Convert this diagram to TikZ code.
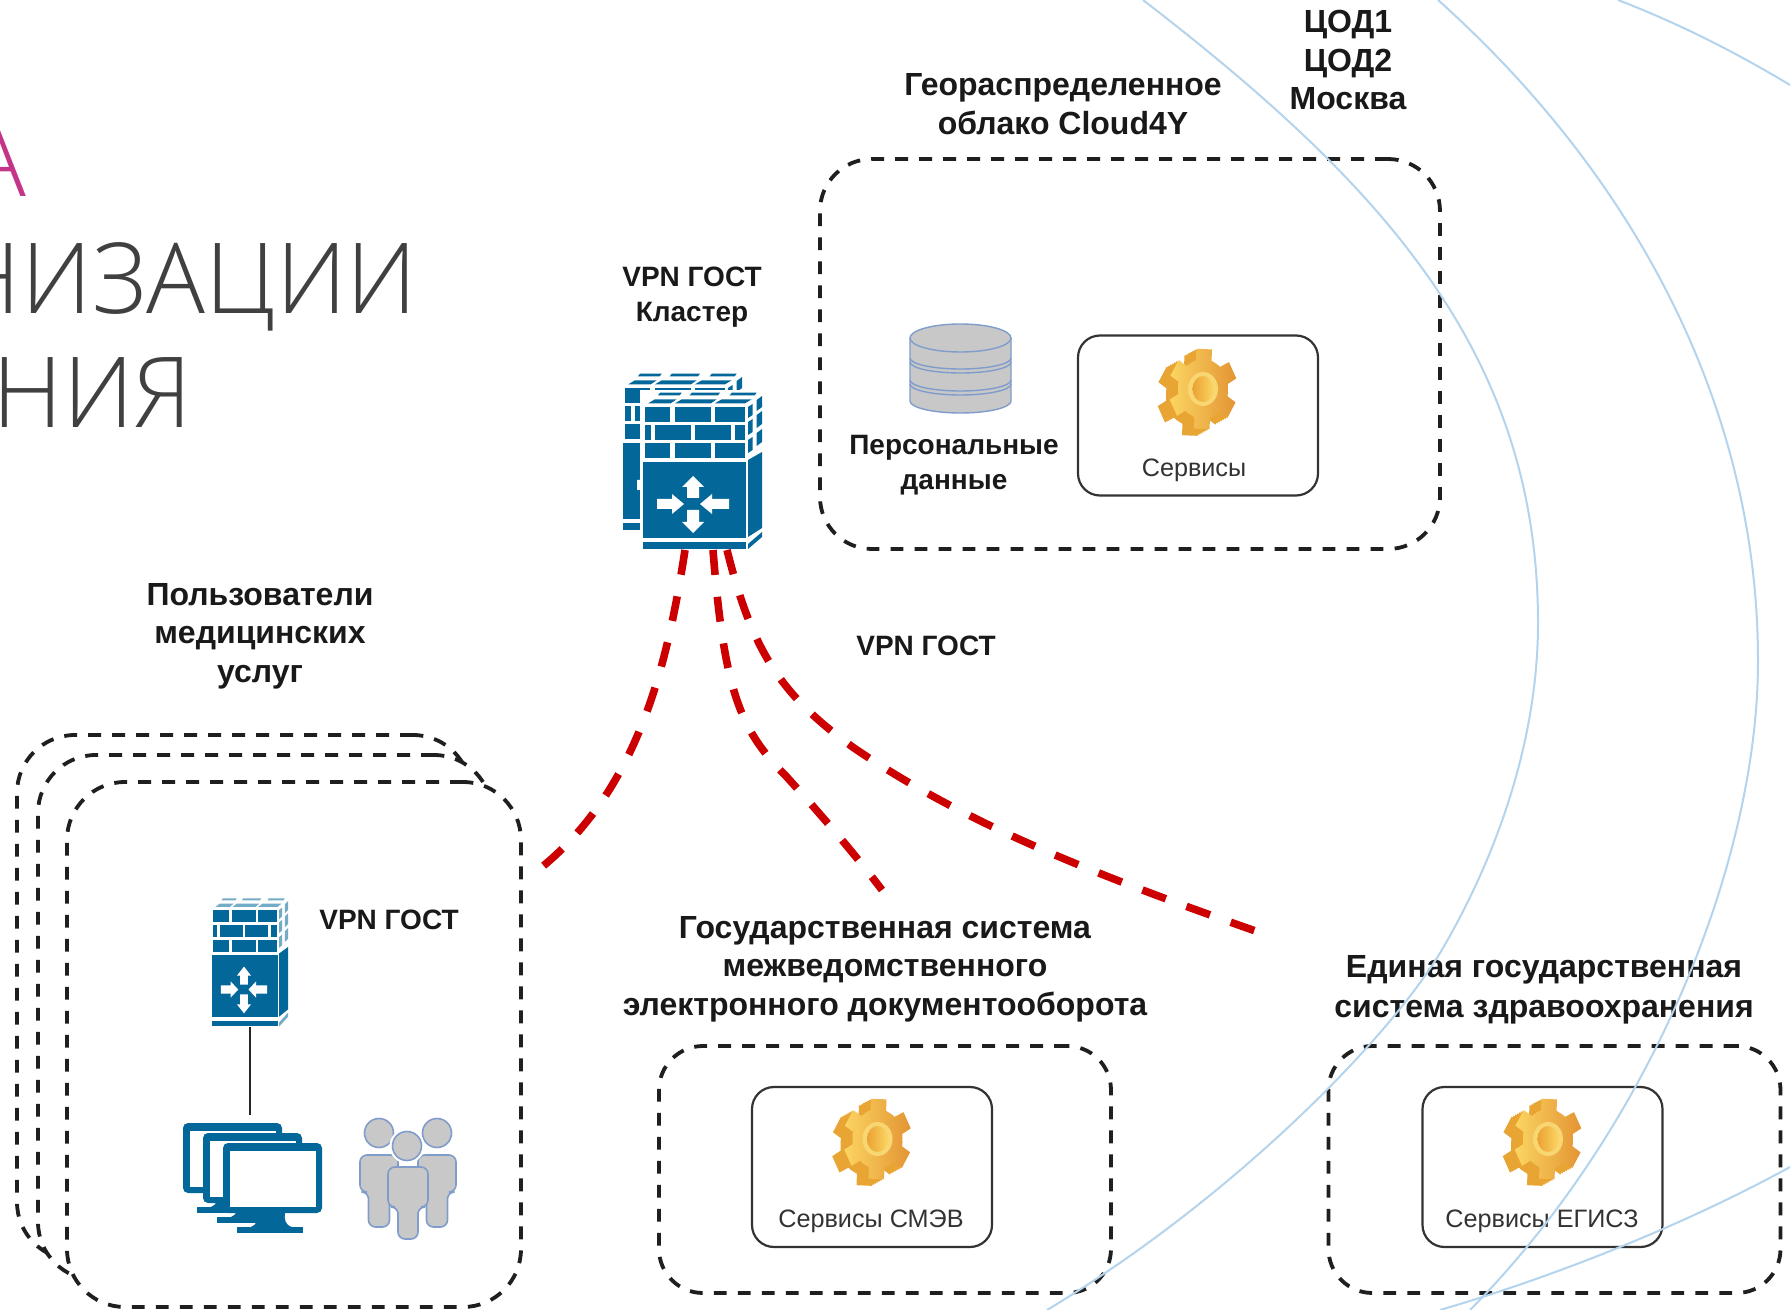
\documentclass[tikz,border=0pt]{standalone}
\usepackage{fontspec}
\setmainfont{Liberation Sans}
\newfontfamily\ttlfont{Open Sans Light}
\definecolor{fwblue}{HTML}{03679A}
\definecolor{arcblue}{HTML}{B4D3EC}
\definecolor{redline}{HTML}{CC0000}
\definecolor{grayfill}{HTML}{C8C8C8}
\definecolor{grayedge}{HTML}{7F9CCB}
\definecolor{titlepink}{HTML}{C4358A}
\definecolor{titlegray}{HTML}{404040}
\definecolor{gearlight}{HTML}{FBD562}
\definecolor{gearmid}{HTML}{F5BC48}
\definecolor{geardark}{HTML}{E39433}
\definecolor{gearring}{HTML}{F8D672}
\definecolor{gearhole}{HTML}{EBA233}
\definecolor{gearside}{HTML}{E8A534}
\tikzset{
  dbox/.style={draw=black!88,line width=1.9pt,dash pattern=on 6.4pt off 5.6pt,fill=white,inner sep=0pt,outer sep=0pt},
  stackbox/.style={dbox,minimum width=227pt,minimum height=262.5pt,rounded corners=29pt},
  cloudbox/.style={dbox,minimum width=310pt,minimum height=195pt,rounded corners=26pt},
  lowbox/.style={dbox,minimum width=226pt,minimum height=123.5pt,rounded corners=22pt},
  svcbox/.style={draw=black!80,line width=1.1pt,fill=white,minimum width=120pt,minimum height=80pt,rounded corners=11pt,inner sep=0pt},
  bigl/.style={font=\fontsize{16}{19.3}\selectfont\bfseries,align=center,inner sep=0pt,text=black!90},
  midl/.style={font=\fontsize{14}{17.3}\selectfont\bfseries,align=center,inner sep=0pt,text=black!90},
  svcl/.style={font=\fontsize{12.6}{14}\selectfont,inner sep=0pt,text=black!80},
  arc/.style={draw=arcblue,line width=1pt},
  reddash/.style={draw=redline,line width=3.8pt,dash pattern=on 12.5pt off 11pt},
  fwside/.style={fill=fwblue},
  personp/.style={fill=grayfill,draw=grayedge,line width=.8pt},
  pics/personbody/.style={code={
    \path[personp,rounded corners=3.5pt]
      (-19,0) -- (19,0) -- (19,37) -- (10.5,37) -- (10.5,72) -- (-10.5,72) -- (-10.5,37) -- (-19,37) -- cycle;
  }},
  pics/firewall/.style={code={
    \foreach \y in {0,36}{
      \fill[fwblue] (2,\y) rectangle (27,\y+15);
      \fill[fwblue] (32,\y) rectangle (68,\y+15);
      \fill[fwblue] (72,\y) rectangle (102,\y+15);
    }
    \fill[fwblue] (2,18) rectangle (8,33);
    \fill[fwblue] (12,18) rectangle (48,33);
    \fill[fwblue] (52,18) rectangle (88,33);
    \fill[fwblue] (92,18) rectangle (102,33);
    \fill[fwside] (5.3,-3.7) -- (27.7,-3.7) -- (33.7,-7.7) -- (12,-7.7) -- cycle;
    \fill[fwside] (32,-3.7) -- (68,-3.7) -- (73.7,-7.7) -- (38.7,-7.7) -- cycle;
    \fill[fwside] (72,-3.7) -- (102,-3.7) -- (108.7,-7.7) -- (78.7,-7.7) -- cycle;
    \fill[fwside] (15,-11.7) -- (36.7,-11.7) -- (38.7,-14.3) -- (17,-14.3) -- cycle;
    \fill[fwside] (46.7,-11.7) -- (75,-11.7) -- (77,-14.3) -- (48.7,-14.3) -- cycle;
    \fill[fwside] (86.7,-11.7) -- (111.7,-11.7) -- (113.7,-14.3) -- (88.7,-14.3) -- cycle;
    \foreach \a/\b in {0/11,15/28,33/46}{
      \fill[fwside] (105,\a) -- (109.5,\a-3) -- (109.5,\b-3) -- (105,\b) -- cycle;
      \fill[fwside] (113.7,\a-7) -- (119,\a-11) -- (119,\b-11) -- (113.7,\b-7) -- cycle;
    }
    \fill[fwblue] (0,55) rectangle (103,131);
    \fill[fwblue] (0,135) rectangle (103,142);
    \fill[fwblue] (105,53) -- (119,45) -- (119,121) -- (105,130) -- cycle;
    \fill[fwside] (105,137) -- (119,125) -- (119,130) -- (105,142) -- cycle;
    \fill[white] (50,69) -- (61,80) -- (56,80) -- (56,91) -- (44,91) -- (44,80) -- (39,80) -- cycle;
    \fill[white] (50,126) -- (61,115) -- (56,115) -- (56,103) -- (44,103) -- (44,115) -- (39,115) -- cycle;
    \fill[white] (41,97) -- (29,87) -- (29,92) -- (14,92) -- (14,102) -- (29,102) -- (29,107) -- cycle;
    \fill[white] (57,97) -- (69,87) -- (69,92) -- (86,92) -- (86,102) -- (69,102) -- (69,107) -- cycle;
  }},
  pics/monitor/.style={code={
    \fill[fwblue,rounded corners=2.5pt] (0,0) rectangle (99,70);
    \fill[white] (7,8) rectangle (93,64);
    \fill[fwblue] (28,84) .. controls (34,82) and (35,76) .. (34,70) -- (62,70) .. controls (61,76) and (62,82) .. (69,84) -- cycle;
    \fill[fwblue] (14,84) rectangle (80,90);
  }},
  pics/gear/.style={code={
    \foreach \k in {12,10,8,6,4,2}{
      \fill[gearside,shift={(-\k,0.55*\k)},xscale=.84]
        (-113:30)
        \foreach \a in {-113,-53,7,67,127,187}{
          -- (\a+7:30) -- (\a+12:41) -- (\a+38:41) -- (\a+43:30) -- (\a+60:30)
        } -- cycle;
    }
    \shade[left color=gearlight,middle color=gearmid,right color=geardark,xscale=.84]
      (-113:30)
      \foreach \a in {-113,-53,7,67,127,187}{
        -- (\a+7:30) -- (\a+12:41) -- (\a+38:41) -- (\a+43:30) -- (\a+60:30)
      } -- cycle;
    \fill[gearring] (0,0) ellipse (15 and 17);
    \shade[left color=gearhole,right color=gearlight] (0,0) ellipse (10.5 and 13);
  }}
}
\begin{document}
\begin{tikzpicture}[x=0.5pt,y=-0.5pt]
\useasboundingbox (0,0) rectangle (1790,1310);
\begin{scope}
\clip (0,0) rectangle (1790,1310);
\node[anchor=base east,inner sep=0pt,text=titlepink,font=\fontsize{49}{49}\selectfont\ttlfont] (ttlA) at (27,197) {А};
\node[anchor=base east,inner sep=0pt,text=titlegray,font=\fontsize{49}{49}\selectfont\ttlfont] (ttlB) at (418,314) {НИЗАЦИИ};
\node[anchor=base east,inner sep=0pt,text=titlegray,font=\fontsize{49}{49}\selectfont\ttlfont] (ttlC) at (192,428) {НИЯ};
\end{scope}

% stacked user boxes
\node[stackbox] (st1) at (244,997.5) {};
\node[stackbox] (st2) at (265,1017.5) {};
\node[stackbox] (st3) at (294,1044.5) {};
\node[cloudbox] (cloud) at (1130,354) {};
\node[lowbox] (smev) at (885,1169.5) {};
\node[lowbox] (egisz) at (1554.5,1169.5) {};
\node[svcbox] (svc1) at (1198,415.5) {};
\node[svcbox] (svc2) at (872,1167) {};
\node[svcbox] (svc3) at (1542.5,1167) {};

% labels
\node[bigl] (l1) at (1063,104) {Геораспределенное\\облако Cloud4Y};
\node[bigl] (l2) at (1348,60) {ЦОД1\\ЦОД2\\Москва};
\node[midl] (l3) at (692,297) {VPN ГОСТ\\Кластер};
\node[bigl] (l4) at (260,636) {Пользователи\\медицинских\\услуг};
\node[midl] (l5) at (954,465) {Персональные\\данные};
\node[bigl] (l6) at (885,969) {Государственная система\\межведомственного\\электронного документооборота};
\node[bigl] (l7) at (1544,990) {Единая государственная\\[1pt]система здравоохранения};
\node[midl] (l8) at (389,920) {VPN ГОСТ};
\node[midl] (l9) at (926,646) {VPN ГОСТ};
\node[svcl] (s1) at (1194,470) {Сервисы};
\node[svcl] (s2) at (871,1221) {Сервисы СМЭВ};
\node[svcl] (s3) at (1542,1221) {Сервисы ЕГИСЗ};

% gears
\pic (g1) at (1203,389) {gear};
\pic (g2) at (877.5,1139) {gear};
\pic (g3) at (1548,1139) {gear};

% database
\fill[grayfill] (910,338) -- (910,401) arc[start angle=180,end angle=0,x radius=50.5,y radius=12] -- (1011,338) -- cycle;
\draw[grayedge,line width=.7pt] (910,338) -- (910,401) arc[start angle=180,end angle=0,x radius=50.5,y radius=12] -- (1011,338);
\foreach \y in {358,362,380,384}{
  \draw[grayedge,line width=.7pt] (910,\y) arc[start angle=180,end angle=0,x radius=50.5,y radius=11];
}
\draw[grayedge,fill=grayfill,line width=.7pt] (960.5,338) ellipse (50.5 and 14);

% firewalls
\pic (fwb) at (623,388) {firewall};
\fill[white] (640,390) rectangle (765,552);
\pic (fwf) at (643,407) {firewall};
\begin{scope}[fwside/.style={fill=fwblue!55!white}]
\pic[xscale=.64,yscale=.82] (fws) at (212,910) {firewall};
\end{scope}

% computers
\pic (m1) at (183,1123) {monitor};
\pic (m2) at (203,1133) {monitor};
\pic (m3) at (223,1143) {monitor};

% people
\draw[personp] (379,1133) circle (14.5);
\draw[personp] (437,1133) circle (14.5);
\pic (p1) at (379,1155) {personbody};
\pic (p2) at (437,1155) {personbody};
\draw[draw=white,fill=white,line width=1.5pt] (407,1146) circle (16);
\draw[personp] (407,1146) circle (14.5);
\path[personp,rounded corners=3.5pt]
  (388,1167) -- (428,1167) -- (428,1207) -- (418,1207) -- (418,1239) -- (398,1239) -- (398,1207) -- (388,1207) -- cycle;

% connectors
\coordinate (fwsb) at (250,1027);
\coordinate (pcs) at (250,1115);
\draw[black!85,line width=.9pt] (fwsb) -- (pcs);

\coordinate (r1s) at (685,550);
\coordinate (r2s) at (713,550);
\coordinate (r3s) at (727,550);
\coordinate (r1e) at (537,871);
\coordinate (r2e) at (882,890);
\coordinate (r3e) at (1267,935);
\draw[reddash] (r1s) .. controls (668,660) and (640,790) .. (r1e);
\draw[reddash] (r2s) .. controls (724,690) and (740,730) .. (785,775) .. controls (815,808) and (850,848) .. (r2e);
\draw[reddash] (r3s) .. controls (752,650) and (780,695) .. (854,748) .. controls (960,820) and (1080,870) .. (r3e);

% background arcs
\begin{scope}
\clip (0,0) rectangle (1790,1310);
\coordinate (a0) at (1143,0);
\coordinate (a1) at (1538,623);
\coordinate (a2) at (1443,948);
\coordinate (a3) at (1047,1310);
\draw[arc] (a0) .. controls (1383,185) and (1538,354) .. (a1)
  .. controls (1538,740) and (1497,855) .. (a2)
  .. controls (1393,1034) and (1237,1196) .. (a3);
\coordinate (b0) at (1438,0);
\coordinate (b1) at (1758,661);
\coordinate (b2) at (1470,1310);
\draw[arc] (b0) .. controls (1628,170) and (1758,400) .. (b1)
  .. controls (1758,860) and (1652,1126) .. (b2);
\coordinate (c0) at (1618,0);
\coordinate (c1) at (1790,85);
\draw[arc] (c0) .. controls (1680,24) and (1735,52) .. (c1);
\coordinate (d0) at (1790,1167);
\coordinate (d1) at (1440,1310);
\draw[arc] (d0) .. controls (1690,1222) and (1560,1275) .. (d1);
\end{scope}
\end{tikzpicture}
\end{document}
